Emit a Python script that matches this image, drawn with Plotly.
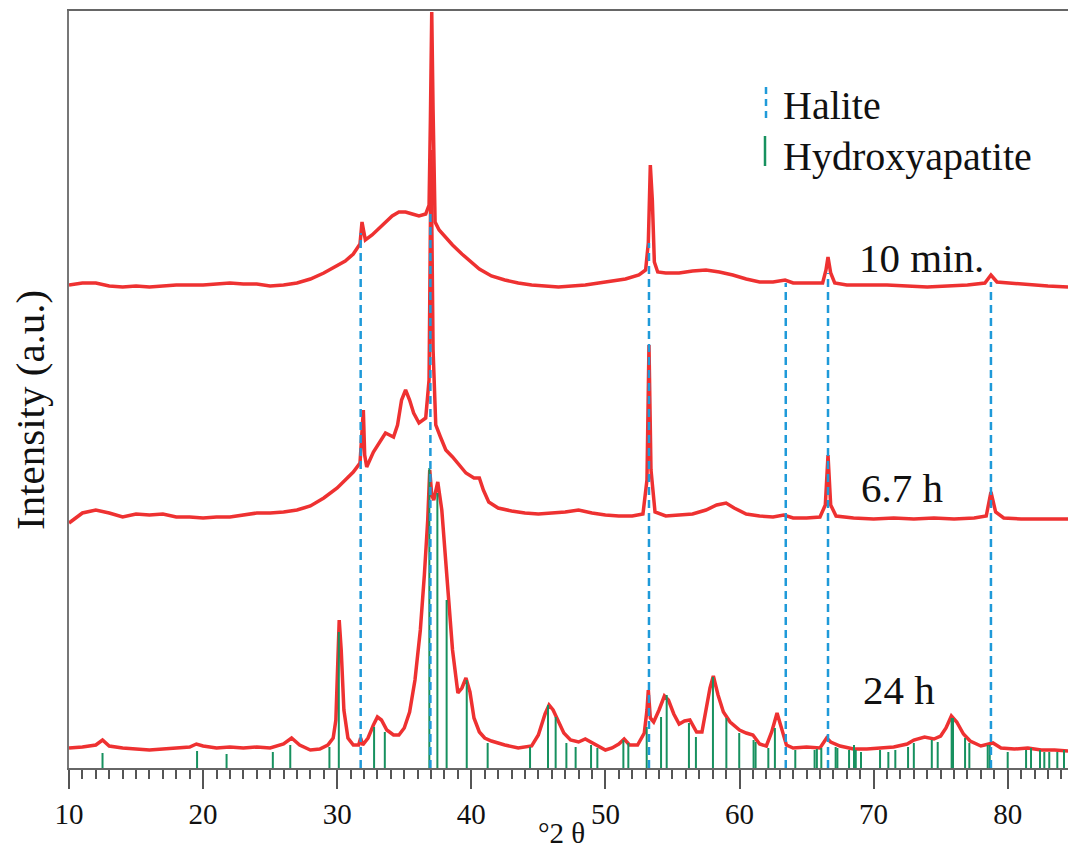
import plotly.graph_objects as go

# ---------------- data ----------------
# 24 h pattern (offset 0)
tt_24h = [10.0, 11.0, 12.0, 12.5, 13.0, 14.0, 15.0, 16.0, 17.0, 18.0, 19.0, 19.5, 20.0, 21.0, 22.0, 23.0, 24.0, 25.0,
          26.0, 26.6, 27.2, 28.0, 28.7, 29.3, 29.7, 29.9, 30.05, 30.15, 30.3, 30.5, 30.8, 31.2, 31.6, 31.75, 31.9,
          32.3, 32.7, 33.0, 33.3, 33.7, 34.2, 34.6, 35.0, 35.4, 35.8, 36.2, 36.5, 36.75, 36.9, 37.05, 37.2, 37.5,
          37.8, 38.1, 38.3, 38.6, 39.0, 39.3, 39.6, 39.9, 40.2, 40.6, 41.0, 41.5, 42.5, 43.5, 44.5, 45.0, 45.5,
          45.8, 46.1, 46.5, 46.9, 47.4, 48.0, 48.5, 49.0, 49.5, 50.0, 50.5, 51.0, 51.4, 51.8, 52.4, 52.9, 53.1,
          53.2, 53.35, 53.6, 54.0, 54.4, 54.7, 55.1, 55.5, 55.9, 56.3, 56.8, 57.2, 57.5, 57.8, 58.05, 58.4, 58.8,
          59.3, 60.0, 60.5, 61.0, 61.5, 62.0, 62.4, 62.8, 63.1, 63.5, 64.0, 65.0, 66.0, 66.5, 66.8, 67.5, 68.5,
          69.5, 70.5, 71.5, 72.5, 73.0, 73.8, 74.5, 75.0, 75.4, 75.8, 76.2, 76.7, 77.2, 78.0, 78.6, 78.9, 79.5,
          80.5, 81.5, 82.5, 83.5, 84.5]
int_24h = [20, 21, 23, 28, 22, 20, 19, 18, 19, 20, 21, 24, 22, 20, 21, 20, 21, 20,
           24, 30, 23, 18, 19, 23, 30, 48, 108, 148, 118, 58, 30, 23, 23, 30, 23,
           30, 43, 51, 48, 38, 33, 33, 40, 56, 88, 138, 193, 248, 298, 273, 268, 286,
           258, 208, 168, 118, 75, 80, 90, 76, 50, 36, 30, 27, 23, 20, 22, 33, 54,
           63, 58, 46, 35, 28, 26, 29, 25, 21, 18, 20, 24, 29, 23, 23, 35, 58,
           78, 50, 46, 58, 72, 68, 54, 44, 47, 48, 36, 36, 56, 80, 92, 73, 56,
           46, 38, 35, 33, 24, 22, 36, 55, 40, 23, 20, 21, 20, 30, 26, 22, 19,
           19, 20, 21, 24, 28, 31, 29, 32, 40, 52, 46, 34, 27, 22, 24, 25, 20,
           19, 20, 18, 18, 17]

# 6.7 h pattern (offset 230)
tt_67h = [10.0, 11.0, 12.0, 13.0, 14.0, 15.0, 16.0, 17.0, 18.0, 19.0, 20.0, 21.0, 22.0, 23.0, 24.0, 25.0, 26.0,
          27.0, 28.0, 29.0, 30.0, 30.6, 31.2, 31.7, 31.85, 31.95, 32.05, 32.2, 32.7, 33.1, 33.6, 34.2, 34.5, 34.8,
          35.1, 35.4, 35.7, 36.1, 36.6, 36.85, 37.0, 37.15, 37.35, 37.7, 38.1, 38.6, 39.1, 39.6, 40.2, 40.6, 40.9,
          41.3, 42.0, 43.0, 44.0, 45.0, 46.0, 47.0, 48.0, 49.0, 50.0, 51.0, 52.0, 52.8, 53.1, 53.25, 53.4, 53.7,
          54.5, 55.5, 56.5, 57.5, 58.3, 59.0, 59.6, 60.5, 61.5, 62.5, 63.3, 64.0, 65.0, 66.0, 66.4, 66.6, 66.8,
          67.2, 68.5, 70.0, 71.5, 73.0, 74.5, 76.0, 77.5, 78.4, 78.75, 79.1, 79.7, 81.0, 82.5, 84.5]
int_67h = [15, 25, 28, 25, 21, 24, 23, 24, 21, 21, 20, 21, 21, 23, 25, 25, 26,
           28, 32, 40, 50, 58, 66, 75, 108, 128, 83, 71, 86, 95, 105, 101, 113, 138,
           148, 138, 125, 115, 120, 158, 388, 188, 113, 101, 88, 81, 73, 65, 60, 60, 48,
           36, 30, 27, 25, 24, 25, 26, 28, 25, 23, 22, 22, 24, 58, 193, 68, 26,
           22, 23, 24, 28, 33, 35, 30, 24, 22, 21, 23, 20, 20, 21, 33, 83, 33,
           22, 20, 19, 20, 19, 20, 19, 20, 22, 46, 26, 20, 19, 19, 19]

# 10 min pattern (offset 460)
tt_10m = [10.0, 11.0, 12.0, 13.0, 14.0, 15.0, 16.0, 17.0, 18.0, 19.0, 20.0, 21.0, 22.0, 23.0, 24.0, 25.0, 26.0,
          27.0, 28.0, 29.0, 30.0, 30.6, 31.2, 31.7, 31.85, 31.95, 32.1, 32.6, 33.1, 33.6, 34.1, 34.6, 35.1, 35.6,
          36.1, 36.6, 36.85, 36.95, 37.05, 37.15, 37.3, 37.6, 38.1, 38.6, 39.3, 40.0, 40.6, 41.5, 42.5, 43.5,
          44.5, 45.5, 46.5, 47.5, 48.5, 49.5, 50.5, 51.5, 52.5, 53.0, 53.2, 53.35, 53.5, 53.65, 53.9, 54.5, 55.5,
          56.5, 57.5, 58.5, 59.5, 60.5, 61.5, 62.5, 63.4, 64.0, 65.0, 66.2, 66.45, 66.6, 66.8, 67.1, 68.0, 69.5,
          71.0, 72.5, 74.0, 75.5, 77.0, 78.3, 78.75, 79.2, 80.0, 81.0, 82.0, 83.0, 84.5]
int_10m = [23, 25, 25, 22, 21, 22, 21, 22, 23, 23, 23, 24, 25, 24, 24, 22, 23,
           25, 29, 35, 42, 47, 54, 64, 86, 80, 68, 73, 79, 86, 92, 96, 96, 94,
           92, 94, 103, 188, 296, 198, 86, 78, 70, 63, 54, 46, 39, 32, 28, 25,
           23, 22, 21, 22, 23, 25, 27, 29, 33, 38, 65, 143, 108, 46, 36, 35, 35,
           37, 38, 36, 33, 29, 26, 26, 28, 25, 25, 25, 38, 51, 35, 25, 23, 23,
           23, 22, 21, 22, 23, 25, 33, 26, 25, 24, 23, 22, 21]

offsets = {"24 h": 0, "6.7 h": 230, "10 min.": 460}

# Halite reference lines (2theta) and drawn heights
halite_pos = [31.75, 36.95, 53.25, 63.45, 66.6, 78.75]
halite_top = [535, 558, 525, 485, 495, 486]

# Hydroxyapatite reference sticks (2theta, relative intensity)
hap_pos = [12.5, 19.55, 21.75, 25.2, 26.5, 29.42, 30.12, 32.75, 33.55, 36.87, 37.47, 38.16, 39.66, 41.22,
           44.38, 45.72, 46.29, 47.09, 47.78, 48.93, 49.4, 51.34, 51.71, 53.08, 54.15, 54.57, 56.23, 56.75,
           58.02, 59.02, 59.98, 61.05, 61.2, 62.15, 62.64, 64.16, 65.6, 65.77, 66.1, 67.17, 67.3, 68.17,
           68.54, 68.67, 69.06, 70.48, 71.1, 71.62, 72.57, 73.0, 74.34, 74.78, 75.82, 75.92, 76.82, 77.14,
           78.51, 78.66, 80.0, 81.37, 81.74, 82.41, 82.73, 83.1, 83.7, 84.2]
hap_int = [15, 17, 14, 16, 23, 21, 136, 41, 36, 300, 275, 168, 88, 25,
           21, 63, 51, 25, 21, 23, 20, 28, 25, 41, 51, 73, 45, 31,
           91, 50, 35, 28, 26, 20, 40, 18, 18, 19, 20, 21, 20, 18,
           23, 18, 16, 18, 16, 18, 21, 25, 28, 26, 50, 50, 30, 25,
           23, 23, 16, 18, 20, 18, 16, 16, 16, 18]

x_ticks = [10, 20, 30, 40, 50, 60, 70, 80]

# ---------------- figure ----------------
RED = "#ee3131"
GREEN = "#17915f"
BLUE = "#1f9ad9"
FONT = "Liberation Serif, Times New Roman, serif"

fig = go.Figure()

for (tt, it, name) in [(tt_24h, int_24h, "24 h"), (tt_67h, int_67h, "6.7 h"), (tt_10m, int_10m, "10 min.")]:
    off = offsets[name]
    fig.add_trace(go.Scatter(x=tt, y=[v + off for v in it], mode="lines",
                             line=dict(color=RED, width=3.5), showlegend=False, hoverinfo="skip"))

# hydroxyapatite sticks
sx, sy = [], []
for p, h in zip(hap_pos, hap_int):
    sx += [p, p, None]
    sy += [0, h, None]
fig.add_trace(go.Scatter(x=sx, y=sy, mode="lines", line=dict(color=GREEN, width=2),
                         showlegend=False, hoverinfo="skip"))

# halite dashed lines
hx, hy = [], []
for p, h in zip(halite_pos, halite_top):
    hx += [p, p, None]
    hy += [0, h, None]
fig.add_trace(go.Scatter(x=hx, y=hy, mode="lines", line=dict(color=BLUE, width=2.5, dash="8px,5px"),
                         showlegend=False, hoverinfo="skip"))

W, H = 1068, 849
ml, mr, mt, mb = 69, 0, 11, 81
pw, ph = W - ml - mr, H - mt - mb


def px(xp):
    return (xp - ml) / pw


def py(yp):
    return (H - mb - yp) / ph


annotations = []
# curve labels
for name, xd, yd in [("10 min.", 68.76, 510), ("6.7 h", 68.91, 280), ("24 h", 69.06, 78)]:
    annotations.append(dict(x=xd, y=yd, xref="x", yref="y", text=name, showarrow=False,
                            xanchor="left", yanchor="middle", font=dict(family=FONT, size=41, color="#111")))
# legend texts
annotations.append(dict(x=px(781), y=py(106), xref="paper", yref="paper", text="Halite", showarrow=False,
                        xanchor="left", yanchor="middle", font=dict(family=FONT, size=40, color="#111")))
annotations.append(dict(x=px(781), y=py(157), xref="paper", yref="paper", text="Hydroxyapatite",
                        showarrow=False, xanchor="left", yanchor="middle",
                        font=dict(family=FONT, size=40, color="#111")))
# axis titles
annotations.append(dict(x=px(561), y=py(833), xref="paper", yref="paper", text="°2 θ", showarrow=False,
                        xanchor="center", yanchor="middle", font=dict(family=FONT, size=29, color="#111")))
annotations.append(dict(x=px(30), y=py(410), xref="paper", yref="paper", text="Intensity (a.u.)",
                        showarrow=False, textangle=-90, xanchor="center", yanchor="middle",
                        font=dict(family=FONT, size=41, color="#111")))

shapes = [
    dict(type="line", xref="paper", yref="paper", x0=px(766), x1=px(766), y0=py(87), y1=py(119),
         line=dict(color=BLUE, width=2.5, dash="7px,5px")),
    dict(type="line", xref="paper", yref="paper", x0=px(765), x1=px(765), y0=py(136), y1=py(166),
         line=dict(color=GREEN, width=2.5)),
]

fig.update_layout(
    width=W, height=H,
    margin=dict(l=ml, r=mr, t=mt, b=mb, pad=0),
    paper_bgcolor="white", plot_bgcolor="white",
    font=dict(family=FONT, color="#111"),
    showlegend=False,
    annotations=annotations,
    shapes=shapes,
    xaxis=dict(range=[10, 10 + pw / 13.41], tickvals=x_ticks, ticktext=[str(t) for t in x_ticks],
               ticks="outside", ticklen=19, tickwidth=1.5, tickcolor="#555",
               minor=dict(dtick=1, tick0=10, ticks="outside", ticklen=9, tickwidth=1.5, tickcolor="#555",
                          showgrid=False),
               showline=True, linecolor="#666", linewidth=1.5, mirror=True,
               showgrid=False, zeroline=False,
               tickfont=dict(family=FONT, size=29, color="#111")),
    yaxis=dict(range=[0, ph], showticklabels=False, ticks="", showgrid=False, zeroline=False,
               showline=True, linecolor="#777", linewidth=2),
)

fig.write_html("out.html")
